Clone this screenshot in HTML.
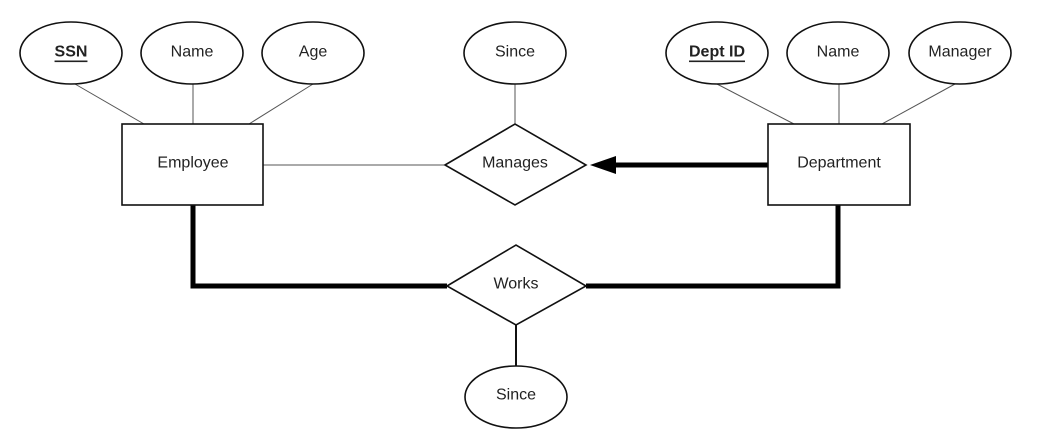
<!DOCTYPE html>
<html><head><meta charset="utf-8"><style>
html,body{margin:0;padding:0;background:#fff;}
svg{display:block;}
text{font-family:"Liberation Sans",sans-serif;font-size:16px;fill:#222;text-anchor:middle;dominant-baseline:central;}
</style></head><body>
<svg width="1041" height="447" viewBox="0 0 1041 447">
<g stroke="#555" stroke-width="1" fill="none">
<line x1="75" y1="84" x2="144" y2="124"/>
<line x1="193" y1="84" x2="193" y2="124"/>
<line x1="313" y1="84" x2="249" y2="124"/>
<line x1="515" y1="84" x2="515" y2="124"/>
<line x1="263" y1="165" x2="445" y2="165"/>
<line x1="717" y1="84" x2="794" y2="124"/>
<line x1="839" y1="84" x2="839" y2="124"/>
<line x1="955" y1="84" x2="882" y2="124"/>
</g>
<line x1="516" y1="325" x2="516" y2="366" stroke="#111" stroke-width="2"/>
<g stroke="#000" stroke-width="5" fill="none">
<polyline points="193,205 193,286 447,286"/>
<polyline points="838,205 838,286 586,286"/>
<line x1="768" y1="165" x2="612" y2="165"/>
</g>
<polygon points="590,165 616,156 616,174" fill="#000"/>
<g stroke="#111" stroke-width="1.6" fill="#fff">
<ellipse cx="71" cy="53" rx="51" ry="31"/>
<ellipse cx="192" cy="53" rx="51" ry="31"/>
<ellipse cx="313" cy="53" rx="51" ry="31"/>
<ellipse cx="515" cy="53" rx="51" ry="31"/>
<ellipse cx="717" cy="53" rx="51" ry="31"/>
<ellipse cx="838" cy="53" rx="51" ry="31"/>
<ellipse cx="960" cy="53" rx="51" ry="31"/>
<ellipse cx="516" cy="397" rx="51" ry="31"/>
<rect x="122" y="124" width="141" height="81"/>
<rect x="768" y="124" width="142" height="81"/>
<polygon points="445,165 515,124 586,165 515,205"/>
<polygon points="447,286 516,245 586,286 516,325"/>
</g>
<text x="71" y="52" style="font-weight:bold;text-decoration:underline">SSN</text>
<text x="192" y="52">Name</text>
<text x="313" y="52">Age</text>
<text x="515" y="52">Since</text>
<text x="717" y="52" style="font-weight:bold;text-decoration:underline">Dept ID</text>
<text x="838" y="52">Name</text>
<text x="960" y="52">Manager</text>
<text x="193" y="163">Employee</text>
<text x="839" y="163">Department</text>
<text x="515" y="163">Manages</text>
<text x="516" y="284">Works</text>
<text x="516" y="395">Since</text>
</svg>
</body></html>
